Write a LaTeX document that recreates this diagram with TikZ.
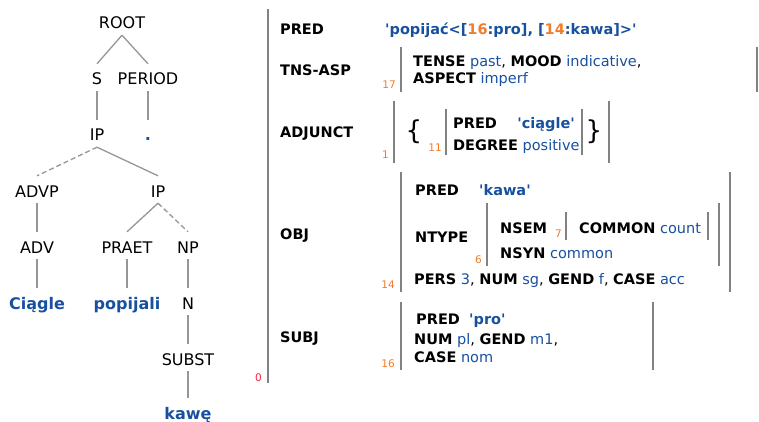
\documentclass[tikz,border=0pt]{standalone}
\usepackage{fontspec}
\setmainfont{DejaVu Sans}
\definecolor{vblue}{RGB}{24,80,160}
\definecolor{vorange}{RGB}{240,125,45}
\definecolor{vred}{RGB}{250,30,70}
\definecolor{bargray}{RGB}{130,130,130}
\definecolor{treegray}{RGB}{150,150,150}
\newcommand\avmkey[1]{{\bfseries\color{black}#1}}
\newcommand\avmval[1]{{\mdseries\color{vblue}#1}}
\newcommand\avmidx[1]{{\color{vorange}#1}}
\newcommand\sq{\textquotesingle}
\begin{document}
\begin{tikzpicture}[x=1pt,y=-1pt,
  tlab/.style={font=\fontsize{16}{16}\selectfont, inner sep=0pt, text height=21pt, text depth=6pt, anchor=base},
  tword/.style={tlab, font=\fontsize{16}{16}\selectfont\bfseries, text=vblue},
  edge/.style={draw=treegray, line width=1.3pt},
  dedge/.style={edge, dash pattern=on 5pt off 3pt},
  attr/.style={font=\fontsize{14.5}{14.5}\selectfont\bfseries, inner sep=0pt, anchor=base west},
  valtext/.style={font=\fontsize{14.5}{14.5}\selectfont, inner sep=0pt, anchor=base west},
  idx/.style={font=\fontsize{10.5}{10.5}\selectfont, text=vorange, inner sep=0pt, anchor=base east},
  brace/.style={font=\fontsize{26}{26}\selectfont, inner sep=0pt, anchor=center},
  bar/.style={draw=bargray, line width=2.7pt},
]
\useasboundingbox (0,0) rectangle (759,422);

% ---------- tree ----------
\node[tlab] (root) at (122,29) {ROOT};
\node[tlab] (s) at (97,85) {S};
\node[tlab] (period) at (148,85) {PERIOD};
\node[tlab] (ip1) at (97,141) {IP};
\node[tword] (dot) at (148,141) {.};
\node[tlab] (advp) at (37,197) {ADVP};
\node[tlab] (ip2) at (158,197) {IP};
\node[tlab] (adv) at (37,253) {ADV};
\node[tlab] (praet) at (127,253) {PRAET};
\node[tlab] (np) at (188,253) {NP};
\node[tword] (ciagle) at (37,309) {Ciągle};
\node[tword] (popijali) at (127,309) {popijali};
\node[tlab] (n) at (188,309) {N};
\node[tlab] (subst) at (188,365) {SUBST};
\node[tword] (kawe) at (188,419) {kawę};

\draw[edge] (root.south) -- (s.north);
\draw[edge] (root.south) -- (period.north);
\draw[edge] (s.south) -- (ip1.north);
\draw[edge] (period.south) -- (dot.north);
\draw[dedge] (ip1.south) -- (advp.north);
\draw[edge] (ip1.south) -- (ip2.north);
\draw[edge] (advp.south) -- (adv.north);
\draw[edge] (ip2.south) -- (praet.north);
\draw[dedge] (ip2.south) -- (np.north);
\draw[edge] (adv.south) -- (ciagle.north);
\draw[edge] (praet.south) -- (popijali.north);
\draw[edge] (np.south) -- (n.north);
\draw[edge] (n.south) -- (subst.north);
\draw[edge] (subst.south) -- (kawe.north);

% ---------- f-structure ----------
\node[idx, text=vred] (i0) at (262,381) {0};
\draw[bar] (268,9) -- (268,383);

\node[attr] (kpred) at (280,35) {PRED};
\node[attr] (ktns) at (280,76) {TNS-ASP};
\node[attr] (kadj) at (280,138) {ADJUNCT};
\node[attr] (kobj) at (280,239) {OBJ};
\node[attr] (ksubj) at (280,342) {SUBJ};

\node[attr, text=vblue] (vpred) at (385,35) {\sq popijać<[\avmidx{16}:pro], [\avmidx{14}:kawa]>\sq};

% TNS-ASP
\node[idx] (i17) at (396,89) {17};
\draw[bar] (401,47) -- (401,92);
\draw[bar] (757,47) -- (757,92);
\node[valtext] (tns1) at (413,67) {\avmkey{TENSE} \avmval{past}, \avmkey{MOOD} \avmval{indicative},};
\node[valtext] (tns2) at (413,84) {\avmkey{ASPECT} \avmval{imperf}};

% ADJUNCT
\node[idx] (i1) at (389,158) {1};
\draw[bar] (394,101) -- (394,163);
\draw[bar] (609,101) -- (609,163);
\node[brace] (lbrace) at (414,132) {\{};
\node[brace] (rbrace) at (594,132) {\}};
\node[idx] (i11) at (442,151) {11};
\draw[bar] (446,109) -- (446,155);
\draw[bar] (582,109) -- (582,155);
\node[attr] (adjpred) at (453,129) {PRED};
\node[attr, anchor=base east, text=vblue] (adjval) at (575,129) {\sq ciągle\sq};
\node[valtext] (adjdeg) at (453,150) {\avmkey{DEGREE} \avmval{positive}};

% OBJ
\node[idx] (i14) at (395,288) {14};
\draw[bar] (401,172) -- (401,292);
\draw[bar] (730,172) -- (730,292);
\node[attr] (objpred) at (415,195) {PRED};
\node[attr, text=vblue] (objval) at (479,195) {\sq kawa\sq};
\node[attr] (ntype) at (415,242) {NTYPE};
\node[idx] (i6) at (482,263) {6};
\draw[bar] (487,203) -- (487,266);
\draw[bar] (719,203) -- (719,266);
\node[attr] (nsem) at (500,233) {NSEM};
\node[idx] (i7) at (562,237) {7};
\draw[bar] (566,212) -- (566,240);
\draw[bar] (708,212) -- (708,240);
\node[valtext] (common) at (579,233) {\avmkey{COMMON} \avmval{count}};
\node[valtext] (nsyn) at (500,258) {\avmkey{NSYN} \avmval{common}};
\node[valtext] (pers) at (414,284) {\avmkey{PERS} \avmval{3}, \avmkey{NUM} \avmval{sg}, \avmkey{GEND} \avmval{f}, \avmkey{CASE} \avmval{acc}};

% SUBJ
\node[idx] (i16) at (395,367) {16};
\draw[bar] (401,302) -- (401,370);
\draw[bar] (653,302) -- (653,370);
\node[attr] (subjpred) at (416,324) {PRED};
\node[attr, text=vblue] (subjval) at (469,324) {\sq pro\sq};
\node[valtext] (subj1) at (414,344) {\avmkey{NUM} \avmval{pl}, \avmkey{GEND} \avmval{m1},};
\node[valtext] (subj2) at (414,362) {\avmkey{CASE} \avmval{nom}};
\end{tikzpicture}
\end{document}
